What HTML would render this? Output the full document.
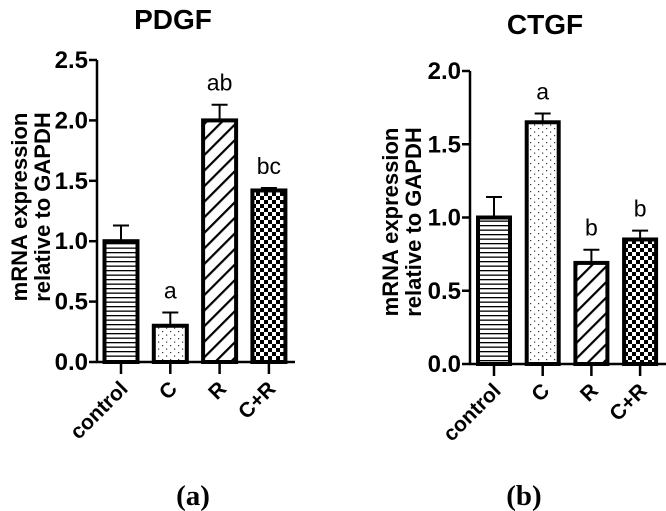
<!DOCTYPE html>
<html><head><meta charset="utf-8"><style>
html,body{margin:0;padding:0;background:#fff;}
svg{display:block;}
text{font-family:"Liberation Sans",Arial,sans-serif;}
</style></head><body>
<svg id="fig" width="666" height="511" viewBox="0 0 666 511" xmlns="http://www.w3.org/2000/svg" style="position:absolute;left:0;top:0">
<defs>
<pattern id="p-h" width="6" height="4.5" patternUnits="userSpaceOnUse"><rect width="6" height="4.5" fill="#fff"/><rect y="0" width="6" height="1.3" fill="#000"/></pattern>
<pattern id="p-d" width="8" height="7" patternUnits="userSpaceOnUse"><rect width="8" height="7" fill="#fff"/><rect x="2" y="2" width="1.2" height="1.2" fill="#333"/><rect x="6" y="5.5" width="1.2" height="1.2" fill="#333"/></pattern>
<pattern id="p-s" width="11" height="11" patternUnits="userSpaceOnUse" patternTransform="rotate(45)"><rect width="11" height="11" fill="#fff"/><rect x="0" width="2.2" height="11" fill="#000"/></pattern>
<pattern id="p-c" width="8" height="8" patternUnits="userSpaceOnUse"><rect width="8" height="8" fill="#fff"/><rect width="4" height="4" fill="#000"/><rect x="4" y="4" width="4" height="4" fill="#000"/></pattern>
</defs>
</svg>
<script>
const categories = ["control","C","R","C+R"];
const patterns = ["p-h","p-d","p-s","p-c"];
const pdgfValues = [1.0, 0.30, 2.0, 1.42];
const pdgfErrors = [0.13, 0.11, 0.13, 0.02];
const pdgfLetters = ["", "a", "ab", "bc"];
const pdgfTicks = ["0.0","0.5","1.0","1.5","2.0","2.5"];
const ctgfValues = [1.0, 1.65, 0.69, 0.85];
const ctgfErrors = [0.14, 0.06, 0.09, 0.06];
const ctgfLetters = ["", "a", "b", "b"];
const ctgfTicks = ["0.0","0.5","1.0","1.5","2.0"];

const svg = document.getElementById('fig');
const NS = 'http://www.w3.org/2000/svg';
function mk(tag, attrs, parent){
  const e = document.createElementNS(NS, tag);
  for (const k in attrs) e.setAttribute(k, attrs[k]);
  (parent||svg).appendChild(e);
  return e;
}
function drawChart(cfg, values, errors, letters, ticks){
  const g = mk('g', {});
  
  
  const ymax = parseFloat(ticks[ticks.length-1]);
  const y = v => cfg.y0 - (v / ymax) * (cfg.y0 - cfg.yTop);
  const x = i => cfg.x0 + cfg.first + i * cfg.step;
  const ya = mk('line', {x1:cfg.ax, y1:y(ymax), x2:cfg.ax, y2:cfg.y0+1, stroke:'#000','stroke-width':2.5}, g);
  
  
  const xa = mk('line', {x1:cfg.ax-1, y1:cfg.y0, x2:cfg.xEnd, y2:cfg.y0, stroke:'#000','stroke-width':2.5}, g);
  
  
  ticks.forEach(t => {
    const v = parseFloat(t), yy = y(v);
    mk('line', {x1:cfg.ax-8, y1:yy, x2:cfg.ax, y2:yy, stroke:'#000','stroke-width':2.5}, g);
    const tl = mk('text', {x:cfg.ax-9, y:yy+8, 'text-anchor':'end','font-size':24,'font-weight':'bold'}, g);
    tl.textContent = t;
    
    
  });
  categories.forEach((c, i) => {
    const cx = x(i), w = cfg.bw;
    mk('line', {x1:cx, y1:y(values[i]), x2:cx, y2:y(values[i]+errors[i]), stroke:'#000','stroke-width':2}, g);
    mk('line', {x1:cx-8, y1:y(values[i]+errors[i]), x2:cx+8, y2:y(values[i]+errors[i]), stroke:'#000','stroke-width':2}, g);
    const b = mk('rect', {x:cx-w/2, y:y(values[i]), width:w, height:cfg.y0 - y(values[i]), fill:'url(#'+patterns[i]+')', stroke:'#000','stroke-width':4}, g);
    
    
    mk('line', {x1:cx, y1:cfg.y0, x2:cx, y2:cfg.y0+12, stroke:'#000','stroke-width':2.5}, g);
    const xl = mk('text', {x:cx+8, y:cfg.y0+28, 'text-anchor':'end','font-size':21,'font-weight':'bold', transform:'rotate(-45 '+(cx+8)+' '+(cfg.y0+28)+')'}, g);
    xl.textContent = c;
    
    
    if (letters[i]) {
      const lt = mk('text', {x:cx, y:y(values[i]+errors[i]) - 14, 'text-anchor':'middle','font-size':23}, g);
      lt.textContent = letters[i];
      
      
    }
  });
}
drawChart({name:'pdgf-chart', ax:97, x0:97, first:24, step:49.3, bw:33, y0:362, yTop:60, xEnd:295}, pdgfValues, pdgfErrors, pdgfLetters, pdgfTicks);
drawChart({name:'ctgf-chart', ax:470, x0:470, first:24, step:48.7, bw:32, y0:364, yTop:71, xEnd:666}, ctgfValues, ctgfErrors, ctgfLetters, ctgfTicks);
</script>
<svg style="position:absolute;left:0;top:0" width="666" height="511" xmlns="http://www.w3.org/2000/svg">
<text x="173" y="29" text-anchor="middle" font-size="28" font-weight="bold">PDGF</text>
<text x="545" y="34" text-anchor="middle" font-size="28" font-weight="bold">CTGF</text>
<text transform="translate(27,207) rotate(-90)" text-anchor="middle" font-size="22" font-weight="bold">mRNA expression</text>
<text transform="translate(50,207) rotate(-90)" text-anchor="middle" font-size="22" font-weight="bold">relative to GAPDH</text>
<text transform="translate(398,222) rotate(-90)" text-anchor="middle" font-size="22" font-weight="bold">mRNA expression</text>
<text transform="translate(421,222) rotate(-90)" text-anchor="middle" font-size="22" font-weight="bold">relative to GAPDH</text>
<text x="193" y="505" text-anchor="middle" font-size="29" font-weight="bold" style="font-family:'Liberation Serif',serif">(a)</text>
<text x="524" y="505" text-anchor="middle" font-size="29" font-weight="bold" style="font-family:'Liberation Serif',serif">(b)</text>
</svg>
</body></html>
